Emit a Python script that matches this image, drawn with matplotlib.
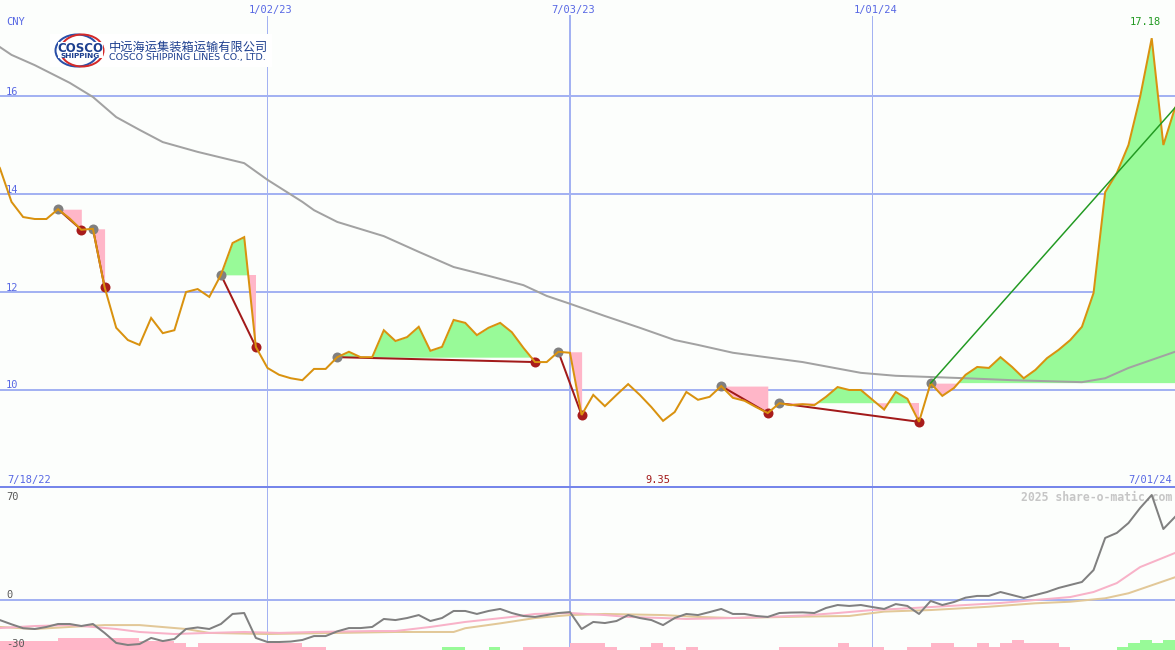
import numpy as np
import pandas as pd
import matplotlib
matplotlib.use("Agg")
import matplotlib.pyplot as plt
import matplotlib.dates as mdates
from matplotlib.patches import Ellipse, Rectangle
from matplotlib.lines import Line2D

W, H, DPI = 1175, 650, 100
PX = 72.0 / DPI

# ---------------- data ----------------
start_date = "2022-07-18"
close = [14.90, 14.53, 13.84, 13.53, 13.49, 13.49, 13.69, 13.50, 13.27, 13.29,
         12.10, 11.27, 11.02, 10.92, 11.47, 11.16, 11.22, 12.00, 12.06, 11.90,
         12.35, 13.00, 13.12, 10.88, 10.45, 10.31, 10.24, 10.20, 10.43, 10.43,
         10.67, 10.78, 10.67, 10.67, 11.22, 11.00, 11.08, 11.29, 10.80, 10.88,
         11.43, 11.37, 11.12, 11.27, 11.37, 11.18, 10.86, 10.57, 10.57, 10.78,
         10.76, 9.49, 9.90, 9.67, 9.90, 10.12, 9.90, 9.65, 9.37, 9.55,
         9.96, 9.80, 9.86, 10.08, 9.84, 9.78, 9.65, 9.53, 9.73, 9.69,
         9.71, 9.69, 9.86, 10.06, 10.00, 10.00, 9.80, 9.60, 9.96, 9.82,
         9.35, 10.14, 9.88, 10.04, 10.31, 10.47, 10.45, 10.67, 10.47, 10.24,
         10.41, 10.65, 10.82, 11.02, 11.29, 11.98, 14.04, 14.43, 15.00, 15.98,
         17.18, 15.00, 15.76]

ma_weeks = [1, 2, 4, 7, 9, 11, 13, 15, 18, 22, 24, 27, 28, 30, 34, 37, 40, 43,
            46, 48, 50, 53, 56, 59, 61, 64, 70, 75, 78, 84, 88, 94, 96, 98, 102]
ma_values = [17.00, 16.84, 16.63, 16.27, 15.98, 15.57, 15.31, 15.06, 14.86, 14.63,
             14.29, 13.84, 13.67, 13.43, 13.14, 12.82, 12.51, 12.33, 12.14, 11.92,
             11.76, 11.51, 11.27, 11.02, 10.92, 10.76, 10.57, 10.35, 10.29, 10.24,
             10.20, 10.16, 10.24, 10.45, 10.78]

osc = [-11.0, -12.8, -15.5, -18.0, -18.5, -17.2, -15.3, -15.3, -16.6, -15.3,
       -21.0, -27.4, -28.7, -28.1, -24.2, -26.2, -24.9, -18.5, -17.5, -18.5,
       -15.3, -8.9, -8.3, -24.2, -26.8, -26.8, -26.5, -25.5, -23.0, -23.0,
       -20.0, -17.9, -17.9, -17.2, -12.1, -12.8, -11.5, -9.6, -13.4, -11.5,
       -7.0, -7.0, -8.9, -7.0, -5.7, -8.3, -10.2, -10.8, -9.6, -8.3,
       -7.7, -18.5, -14.0, -14.7, -13.4, -9.6, -11.5, -12.8, -16.0, -11.5,
       -8.9, -9.6, -7.7, -5.7, -8.9, -8.9, -10.2, -10.8, -8.3, -8.0,
       -7.9, -8.3, -5.1, -3.2, -3.8, -3.2, -4.5, -5.7, -2.6, -3.8,
       -8.9, -0.6, -3.2, -1.3, 1.5, 2.6, 2.6, 5.1, 3.2, 1.3,
       3.2, 5.1, 7.7, 9.6, 11.5, 19.1, 39.6, 42.8, 49.1, 58.7,
       67.0, 45.3, 53.0]

pink_weeks = [1, 4, 7, 9, 11, 13, 16, 19, 22, 25, 28, 33, 35, 38, 41, 45, 47, 50,
              53, 55, 58, 60, 64, 67, 70, 73, 76, 78, 81, 84, 87, 90, 93, 95, 97,
              99, 102]
pink_values = [-17.9, -16.6, -16.0, -17.2, -18.5, -20.4, -21.7, -21.0, -20.4, -21.0,
               -20.4, -19.8, -19.8, -17.2, -14.0, -10.8, -8.9, -8.3, -9.6, -10.8,
               -11.5, -12.1, -11.5, -10.8, -9.9, -8.3, -6.4, -5.7, -4.5, -3.2,
               -1.9, 0.0, 1.9, 5.1, 10.8, 21.0, 30.0]

tan_weeks = [1, 4, 7, 10, 13, 17, 19, 24, 30, 35, 40, 41, 44, 47, 50, 53, 58, 61,
             64, 70, 74, 77, 81, 86, 90, 93, 96, 98, 102]
tan_values = [-17.2, -18.5, -17.2, -16.0, -16.0, -18.5, -21.0, -21.7, -21.0, -20.4,
              -20.4, -18.0, -14.9, -11.5, -9.6, -8.9, -9.6, -10.8, -11.5, -10.6,
              -10.2, -7.4, -6.4, -4.3, -2.1, -1.1, 1.1, 4.3, 14.5]

# signed weekly histogram (negative = pink, positive = green)
bars = [-5.7, -5.7, -5.7, -5.7, -5.7, -5.7, -7.7, -7.7, -7.7, -7.7,
        -7.7, -7.7, -7.7, -5.7, -5.7, -5.7, -4.5, -2.0, -4.5, -4.5,
        -4.5, -4.5, -4.5, -4.5, -4.5, -4.5, -4.5, -2.0, -2.0, 0,
        0, 0, 0, 0, 0, 0, 0, 0, 0, 2.0,
        2.0, 0, 0, 2.0, 0, 0, -2.0, -2.0, -2.0, -2.0,
        -4.5, -4.5, -4.5, -2.0, 0, 0, -2.0, -4.5, -2.0, 0,
        -2.0, 0, 0, 0, 0, 0, 0, 0, -2.0, -2.0,
        -2.0, -2.0, -2.0, -4.5, -2.0, -2.0, -2.0, 0, 0, -2.0,
        -2.0, -4.5, -4.5, -2.0, -2.0, -4.5, -2.0, -4.5, -6.4, -4.5,
        -4.5, -4.5, -2.0, 0, 0, 0, 0, 2.0, 4.5, 6.4,
        4.5, 6.4, 6.4]

entries = [6, 9, 20, 30, 49, 63, 68, 81]
exits = [8, 10, 23, 47, 51, 67, 80, None]   # None = open position

price_ticks = [10, 12, 14, 16]
date_ticks = ["2023-01-02", "2023-07-03", "2024-01-01"]
date_tick_labels = ["1/02/23", "7/03/23", "1/01/24"]
osc_ticks = [70, 0, -30]
currency = "CNY"
first_label = "7/18/22"
last_label = "7/01/24"
watermark = "2025 share-o-matic.com"
company_cn = "中远海运集装箱运输有限公司"
company_en = "COSCO SHIPPING LINES CO., LTD."

# ---------------- styles ----------------
BG = "#fcfefc"
GRID = "#a3b2f2"
SEP = "#7686ea"
TXT_BLUE = "#5868e4"
ORANGE = "#d9920f"
MA_GRAY = "#a2a2a2"
GREEN_FILL = "#98fa98"
PINK_FILL = "#ffb6c8"
DARKRED = "#a21a1a"
DOT_GRAY = "#808080"
DOT_RED = "#a81c1c"
OPEN_GREEN = "#229a22"
OSC_GRAY = "#808080"
OSC_PINK = "#f8b2c8"
OSC_TAN = "#e2c898"
NAVY = "#1d3f8f"
MONO = "DejaVu Sans Mono"
FS = 7.5

dates = pd.date_range(start_date, periods=len(close), freq="7D")
xd = mdates.date2num(dates)
cl = np.array(close)

fig = plt.figure(figsize=(W / DPI, H / DPI), dpi=DPI)
fig.patch.set_facecolor(BG)

TOP = 487
ax = fig.add_axes([0, 1 - TOP / H, 1, TOP / H])
ax2 = fig.add_axes([0, 0, 1, (H - TOP) / H], sharex=ax)
for a in (ax, ax2):
    a.set_axis_off()

px_per_day = 11.635 / 7.0
ax.set_xlim(xd[-1] - W / px_per_day, xd[-1])
ax.set_ylim(8.02, 17.96)
ax2.set_ylim(-31.9, 72.1)

# ---------------- main panel ----------------
for p in price_ticks:
    ax.axhline(p, color=GRID, lw=2 * PX, zorder=0)
    ax.annotate(str(p), xy=(0, p), xycoords=("axes fraction", "data"),
                xytext=(6 * PX, 1.5 * PX), textcoords="offset points",
                ha="left", va="baseline", fontsize=FS, family=MONO, color=TXT_BLUE)

for d, lab in zip(date_ticks, date_tick_labels):
    dn = mdates.datestr2num(d)
    lw = (2 if pd.Timestamp(d).month == 7 else 1) * PX
    ax.axvline(dn, ymin=0, ymax=1 - 16 / TOP, color=GRID, lw=lw, zorder=0)
    ax2.axvline(dn, color=GRID, lw=lw, zorder=0)
    ax.annotate(lab, xy=(dn, 1), xycoords=("data", "axes fraction"),
                xytext=(3 * PX, -13 * PX), textcoords="offset points",
                ha="center", va="baseline", fontsize=FS, family=MONO, color=TXT_BLUE)

# trade fills / markers
for e, x_end in zip(entries, exits):
    last = len(cl) - 1 if x_end is None else x_end
    seg_x = xd[e:last + 1]
    seg_p = cl[e:last + 1]
    lvl = cl[e]
    ax.fill_between(seg_x, lvl, seg_p, where=seg_p >= lvl, interpolate=True,
                    color=GREEN_FILL, lw=0, zorder=1)
    ax.fill_between(seg_x, lvl, seg_p, where=seg_p <= lvl, interpolate=True,
                    color=PINK_FILL, lw=0, zorder=1)
    if x_end is None:
        ax.plot([xd[e], xd[last]], [cl[e], cl[last]], color=OPEN_GREEN,
                lw=1.5 * PX, zorder=6)
    else:
        ax.plot([xd[e], xd[last]], [cl[e], cl[last]], color=DARKRED,
                lw=2 * PX, zorder=3)
        ax.plot(xd[last], cl[last], "o", ms=10 * PX, color=DOT_RED, mec="none", zorder=3)
    ax.plot(xd[e], cl[e], "o", ms=10 * PX, color=DOT_GRAY, mec="none", zorder=3)

ma_x = xd[np.array(ma_weeks)]
ax.plot(ma_x, ma_values, color=MA_GRAY, lw=2 * PX, zorder=2)
ax.plot(xd, cl, color=ORANGE, lw=2 * PX, zorder=5, solid_joinstyle="miter")

ax.annotate(currency, xy=(0, 1), xycoords="axes fraction", xytext=(6 * PX, -25 * PX),
            textcoords="offset points", ha="left", va="baseline",
            fontsize=FS, family=MONO, color=TXT_BLUE)
ax.annotate(first_label, xy=(0, 0), xycoords="axes fraction", xytext=(7 * PX, 4 * PX),
            textcoords="offset points", ha="left", va="baseline",
            fontsize=FS, family=MONO, color=TXT_BLUE)
ax.annotate(last_label, xy=(1, 0), xycoords="axes fraction", xytext=(-3 * PX, 4 * PX),
            textcoords="offset points", ha="right", va="baseline",
            fontsize=FS, family=MONO, color=TXT_BLUE)
ax.annotate(f"{min(close):.2f}", xy=(658 / W, 0), xycoords="axes fraction",
            xytext=(0, 4 * PX), textcoords="offset points", ha="center",
            va="baseline", fontsize=FS, family=MONO, color=DARKRED)
ax.annotate(f"{max(close):.2f}", xy=(1145 / W, 1), xycoords="axes fraction",
            xytext=(0, -25 * PX), textcoords="offset points", ha="center",
            va="baseline", fontsize=FS, family=MONO, color=OPEN_GREEN)

# ---------------- lower panel ----------------
ybot = ax2.get_ylim()[0]
b = np.array(bars)
ax2.bar(xd, np.abs(b), bottom=ybot, width=7.0, align="edge",
        color=[GREEN_FILL if v > 0 else PINK_FILL for v in b], lw=0, zorder=1)
ax2.axhline(0, color=GRID, lw=2 * PX, zorder=0.5)
ax2.plot(xd[np.array(tan_weeks)], tan_values, color=OSC_TAN, lw=2 * PX, zorder=2)
ax2.plot(xd[np.array(pink_weeks)], pink_values, color=OSC_PINK, lw=2 * PX, zorder=3)
ax2.plot(xd, osc, color=OSC_GRAY, lw=2 * PX, zorder=4)

ax2.annotate(str(osc_ticks[0]), xy=(0, 1), xycoords="axes fraction",
             xytext=(6 * PX, -13 * PX), textcoords="offset points",
             ha="left", va="baseline", fontsize=FS, family=MONO, color="#585858")
ax2.annotate(str(osc_ticks[1]), xy=(0, osc_ticks[1]), xycoords=("axes fraction", "data"),
             xytext=(6 * PX, 2 * PX), textcoords="offset points",
             ha="left", va="baseline", fontsize=FS, family=MONO, color="#585858")
ax2.annotate(str(osc_ticks[2]), xy=(0, osc_ticks[2]), xycoords=("axes fraction", "data"),
             xytext=(6 * PX, 0), textcoords="offset points",
             ha="left", va="baseline", fontsize=FS, family=MONO, color="#585858")
ax2.annotate(watermark, xy=(1, 1), xycoords="axes fraction",
             xytext=(-3 * PX, -14 * PX), textcoords="offset points",
             ha="right", va="baseline", fontsize=8.3, family=MONO,
             fontweight="bold", color="#c6c6c6")

fig.add_artist(Line2D([0, 1], [1 - TOP / H, 1 - TOP / H], color=SEP,
                      lw=2 * PX, transform=fig.transFigure))

# ---------------- logo ----------------
ov = fig.add_axes([0, 0, 1, 1])
ov.set_axis_off()
ov.set_xlim(0, W)
ov.set_ylim(H, 0)
ov.add_patch(Rectangle((50, 34), 222, 33, fc="white", ec="none", zorder=1))
ov.add_patch(Ellipse((77, 50.5), 43, 32, fill=False, ec="#2a4fa8", lw=2 * PX, zorder=2))
ov.add_patch(Ellipse((82, 50.5), 43, 32, fill=False, ec="#d42a2a", lw=2 * PX, zorder=2))
ov.add_patch(Rectangle((57.5, 42), 45, 16, fc="white", ec="none", zorder=3))
ov.text(80, 48.5, "COSCO", ha="center", va="center", fontsize=8.5,
        fontweight="bold", color=NAVY, family="DejaVu Sans", zorder=4)
ov.text(80, 55.8, "SHIPPING", ha="center", va="center", fontsize=5.3,
        fontweight="bold", color=NAVY, family="DejaVu Sans", zorder=4)
t_cn = ov.text(109, 47.5, company_cn, ha="left", va="center", fontsize=8.8,
               color=NAVY, family=["Noto Sans CJK SC", "DejaVu Sans"], zorder=4)
t_en = ov.text(109, 57.5, company_en, ha="left", va="center", fontsize=6,
               color=NAVY, family="DejaVu Sans", zorder=4)

fig.canvas.draw()
r = fig.canvas.get_renderer()
for t, target in ((t_cn, 159.0), (t_en, 159.0)):
    w = t.get_window_extent(r).width
    if w > 0:
        t.set_fontsize(t.get_fontsize() * target / w)

fig.savefig("out.png", dpi=DPI, facecolor=BG)
